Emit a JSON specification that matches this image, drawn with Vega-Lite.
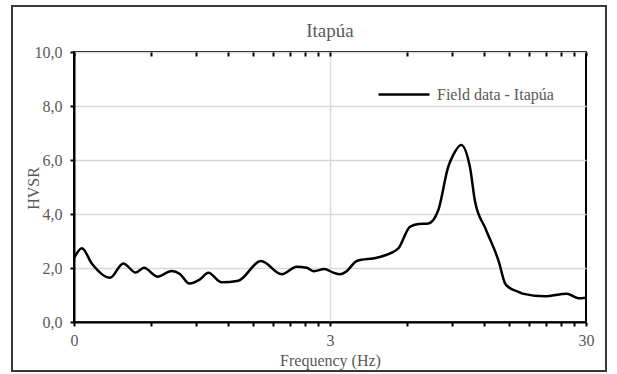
{
  "$schema": "https://vega.github.io/schema/vega-lite/v6.json",
  "width": 512,
  "height": 270,
  "autosize": "none",
  "padding": {"left": 74, "top": 52, "right": 31, "bottom": 52},
  "background": "white",
  "config": {
    "font": "'Liberation Serif', 'Times New Roman', Times, serif",
    "view": {"stroke": "#000000", "strokeWidth": 2},
    "axis": {
      "labelFont": "'Liberation Serif', 'Times New Roman', Times, serif",
      "titleFont": "'Liberation Serif', 'Times New Roman', Times, serif",
      "labelColor": "#595959",
      "titleColor": "#595959",
      "labelFontSize": 16,
      "titleFontSize": 16,
      "titleFontWeight": "normal",
      "domainColor": "#000000",
      "domainWidth": 2,
      "tickColor": "#000000",
      "tickWidth": 2,
      "gridColor": "#d9d9d9",
      "gridWidth": 1.5
    }
  },
  "title": {
    "text": "Itapúa",
    "font": "'Liberation Serif', 'Times New Roman', Times, serif",
    "fontSize": 19,
    "fontWeight": "normal",
    "color": "#595959",
    "anchor": "middle",
    "baseline": "alphabetic",
    "offset": 0,
    "dy": 51
  },
  "data": {
    "values": [
      {"f": 0.300, "hvsr": 2.36},
      {"f": 0.322, "hvsr": 2.73},
      {"f": 0.352, "hvsr": 2.17},
      {"f": 0.415, "hvsr": 1.64},
      {"f": 0.467, "hvsr": 2.17},
      {"f": 0.523, "hvsr": 1.83},
      {"f": 0.563, "hvsr": 2.01},
      {"f": 0.635, "hvsr": 1.68},
      {"f": 0.722, "hvsr": 1.89},
      {"f": 0.778, "hvsr": 1.78},
      {"f": 0.846, "hvsr": 1.43},
      {"f": 0.932, "hvsr": 1.58},
      {"f": 1.004, "hvsr": 1.82},
      {"f": 1.133, "hvsr": 1.47},
      {"f": 1.315, "hvsr": 1.53},
      {"f": 1.613, "hvsr": 2.26},
      {"f": 1.943, "hvsr": 1.77},
      {"f": 2.224, "hvsr": 2.05},
      {"f": 2.433, "hvsr": 2.01},
      {"f": 2.598, "hvsr": 1.88},
      {"f": 2.850, "hvsr": 1.96},
      {"f": 3.090, "hvsr": 1.83},
      {"f": 3.280, "hvsr": 1.77},
      {"f": 3.460, "hvsr": 1.86},
      {"f": 3.820, "hvsr": 2.26},
      {"f": 4.570, "hvsr": 2.38},
      {"f": 5.150, "hvsr": 2.54},
      {"f": 5.550, "hvsr": 2.73},
      {"f": 6.160, "hvsr": 3.53},
      {"f": 6.640, "hvsr": 3.63},
      {"f": 7.260, "hvsr": 3.65},
      {"f": 7.950, "hvsr": 4.15},
      {"f": 8.690, "hvsr": 5.75},
      {"f": 9.090, "hvsr": 6.19},
      {"f": 9.750, "hvsr": 6.56},
      {"f": 10.57, "hvsr": 5.72},
      {"f": 11.05, "hvsr": 4.48},
      {"f": 12.13, "hvsr": 3.47},
      {"f": 13.71, "hvsr": 2.22},
      {"f": 14.48, "hvsr": 1.43},
      {"f": 15.01, "hvsr": 1.28},
      {"f": 16.32, "hvsr": 1.12},
      {"f": 16.93, "hvsr": 1.05},
      {"f": 20.74, "hvsr": 0.95},
      {"f": 25.22, "hvsr": 1.05},
      {"f": 28.00, "hvsr": 0.88},
      {"f": 30.00, "hvsr": 0.90}
    ]
  },
  "layer": [
    {
      "mark": {
        "type": "rect",
        "fill": null,
        "stroke": "#3a3a3a",
        "strokeWidth": 1.5
      },
      "encoding": {
        "x": {"value": -62},
        "x2": {"value": 532},
        "y": {"value": -46},
        "y2": {"value": 319}
      }
    },
    {
      "mark": {
        "type": "line",
        "interpolate": "monotone",
        "strokeWidth": 2.5,
        "clip": true
      },
      "encoding": {
        "x": {
          "field": "f",
          "type": "quantitative",
          "scale": {"type": "log", "domain": [0.3, 30], "nice": false},
          "axis": {
            "title": "Frequency (Hz)",
            "values": [0.3, 0.6, 0.9, 1.2, 1.5, 1.8, 2.1, 2.4, 2.7, 3, 6, 9, 12, 15, 18, 21, 24, 27, 30],
            "labelExpr": "datum.value == 0.3 || datum.value == 3 || datum.value == 30 ? format(datum.value, '.0f') : ''",
            "labelOverlap": false,
            "labelBound": false,
            "labelFlush": false,
            "labelPadding": 6,
            "tickSize": 4,
            "titlePadding": 4,
            "grid": true,
            "gridOpacity": {"condition": {"test": "datum.value == 3", "value": 1}, "value": 0}
          }
        },
        "y": {
          "field": "hvsr",
          "type": "quantitative",
          "scale": {"domain": [0, 10], "nice": false},
          "axis": {
            "title": "HVSR",
            "values": [0, 2, 4, 6, 8, 10],
            "labelExpr": "replace(format(datum.value, '.1f'), '.', ',')",
            "tickSize": 4,
            "labelPadding": 8,
            "titleX": -41,
            "titleY": 136,
            "titleAlign": "center",
            "titleBaseline": "middle",
            "grid": true
          }
        },
        "color": {
          "datum": "Field data - Itapúa",
          "type": "nominal",
          "scale": {"range": ["#000000"]},
          "legend": {
            "title": null,
            "orient": "none",
            "legendX": 303,
            "legendY": 15.5,
            "symbolType": "stroke",
            "symbolSize": 2601,
            "symbolStrokeWidth": 2.5,
            "labelFont": "'Liberation Serif', 'Times New Roman', Times, serif",
            "labelFontSize": 16,
            "labelColor": "#595959",
            "labelOffset": 6,
            "padding": 0
          }
        }
      }
    },
    {
      "mark": {"type": "rule", "opacity": 0},
      "encoding": {
        "x": {
          "field": "f",
          "type": "quantitative",
          "axis": {
            "values": [0.3, 0.6, 0.9, 1.2, 1.5, 1.8, 2.1, 2.4, 2.7, 3, 6, 9, 12, 15, 18, 21, 24, 27, 30],
            "labels": false,
            "title": null,
            "domain": false,
            "grid": false,
            "tickSize": -4
          }
        }
      }
    }
  ],
  "resolve": {"axis": {"x": "independent"}}
}
